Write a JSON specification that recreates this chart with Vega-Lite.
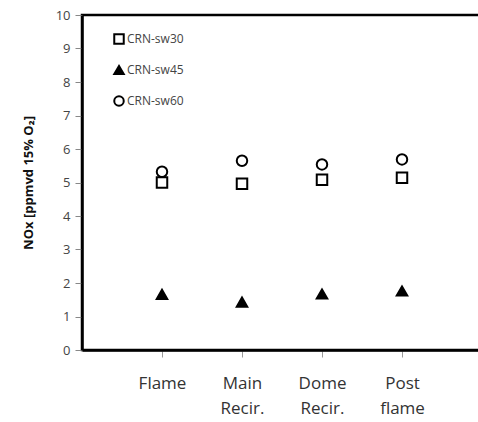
{
  "$schema": "https://vega.github.io/schema/vega-lite/v6.json",
  "width": 400,
  "height": 335,
  "autosize": "none",
  "padding": {"left": 82, "top": 15, "right": 0, "bottom": 72},
  "background": "white",
  "config": {
    "view": {"stroke": "black", "strokeWidth": 2.5},
    "font": "Open Sans"
  },
  "data": {
    "values": [
      {"location": "Flame", "series": "CRN-sw30", "nox": 5.0},
      {"location": "Main Recir.", "series": "CRN-sw30", "nox": 4.96},
      {"location": "Dome Recir.", "series": "CRN-sw30", "nox": 5.08},
      {"location": "Post flame", "series": "CRN-sw30", "nox": 5.14},
      {"location": "Flame", "series": "CRN-sw45", "nox": 1.66},
      {"location": "Main Recir.", "series": "CRN-sw45", "nox": 1.43},
      {"location": "Dome Recir.", "series": "CRN-sw45", "nox": 1.67},
      {"location": "Post flame", "series": "CRN-sw45", "nox": 1.76},
      {"location": "Flame", "series": "CRN-sw60", "nox": 5.32},
      {"location": "Main Recir.", "series": "CRN-sw60", "nox": 5.65},
      {"location": "Dome Recir.", "series": "CRN-sw60", "nox": 5.54},
      {"location": "Post flame", "series": "CRN-sw60", "nox": 5.69}
    ]
  },
  "mark": {"type": "point", "strokeWidth": 2, "stroke": "black", "opacity": 1, "size": 110},
  "encoding": {
    "x": {
      "field": "location",
      "type": "nominal",
      "sort": ["Flame", "Main Recir.", "Dome Recir.", "Post flame"],
      "scale": {"type": "point", "padding": 1},
      "axis": {
        "title": null,
        "labelAngle": 0,
        "labelExpr": "split(datum.label, ' ')",
        "labelFontSize": 17,
        "labelColor": "#333",
        "labelPadding": 18,
        "labelLineHeight": 25,
        "labelBaseline": "top",
        "domainColor": "black",
        "domainWidth": 2.5,
        "tickColor": "#999",
        "tickSize": 7,
        "grid": false
      }
    },
    "y": {
      "field": "nox",
      "type": "quantitative",
      "scale": {"domain": [0, 10]},
      "axis": {
        "title": "NOx [ppmvd 15% O₂]",
        "titleFontSize": 13,
        "titleFontWeight": "bold",
        "titleColor": "#111",
        "titlePadding": 20,
        "values": [0,1,2,3,4,5,6,7,8,9,10],
        "labelFontSize": 13,
        "labelColor": "#444",
        "labelPadding": 5,
        "domainColor": "black",
        "domainWidth": 2.5,
        "tickColor": "#888",
        "tickSize": 7,
        "grid": false
      }
    },
    "shape": {
      "field": "series",
      "type": "nominal",
      "scale": {"domain": ["CRN-sw30", "CRN-sw45", "CRN-sw60"], "range": ["square", "triangle-up", "circle"]},
      "legend": {
        "title": null,
        "orient": "none",
        "legendX": 31,
        "legendY": 18,
        "labelFontSize": 12,
        "labelColor": "#444",
        "rowPadding": 13,
        "symbolSize": 90,
        "symbolStrokeWidth": 2,
        "labelOffset": 2,
        "encode": {"symbols": {"update": {"stroke": {"value": "black"}, "strokeWidth": {"value": 2}}}}
      }
    },
    "fill": {
      "field": "series",
      "type": "nominal",
      "scale": {"domain": ["CRN-sw30", "CRN-sw45", "CRN-sw60"], "range": ["transparent", "black", "transparent"]},
      "legend": {
        "title": null,
        "orient": "none",
        "legendX": 31,
        "legendY": 18,
        "labelFontSize": 12,
        "labelColor": "#444",
        "rowPadding": 13,
        "symbolSize": 90,
        "symbolStrokeWidth": 2,
        "labelOffset": 2,
        "encode": {"symbols": {"update": {"stroke": {"value": "black"}, "strokeWidth": {"value": 2}}}}
      }
    }
  }
}
